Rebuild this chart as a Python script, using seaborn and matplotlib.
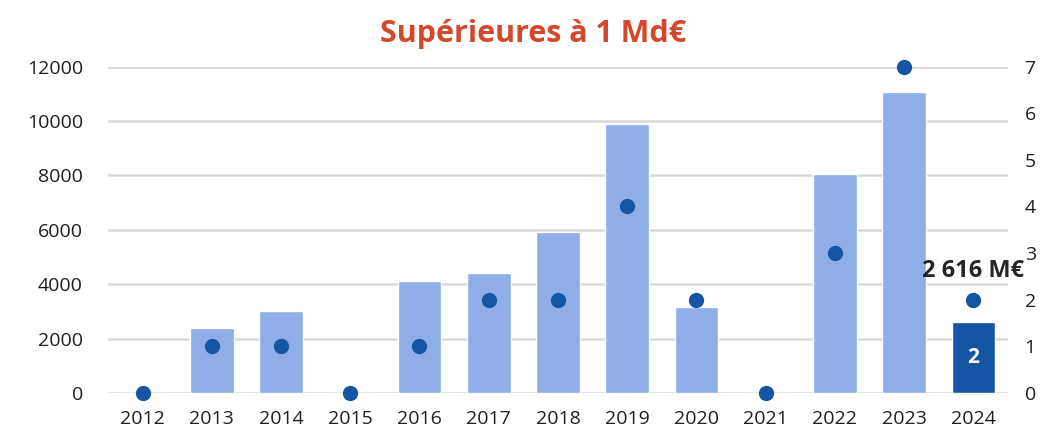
"""Opérations supérieures à 1 Md€ : montants (barres) et nombre (points)."""

import matplotlib

matplotlib.use("Agg")
import matplotlib.pyplot as plt
import pandas as pd
import seaborn as sns

years = ["2012", "2013", "2014", "2015", "2016", "2017", "2018",
         "2019", "2020", "2021", "2022", "2023", "2024"]
amounts = [0, 2400, 3000, 0, 4100, 4400, 5900, 9900, 3150, 0, 8050, 11050, 2616]
counts = [0, 1, 1, 0, 1, 2, 2, 4, 2, 0, 3, 7, 2]

LIGHT = "#8FADE7"
DARK = "#1455A4"
TITLE = "#D5472A"
GRID = "#D9D9D9"
TEXT = "#1F1F1F"

df = pd.DataFrame({"year": years, "amount": amounts, "count": counts})

sns.set_theme(style="white")
plt.rcParams["font.family"] = ["Open Sans", "DejaVu Sans"]

fig = plt.figure(figsize=(10.43, 4.30), dpi=100)
ax = fig.add_axes([0.1035, 0.086, 0.8629, 0.7593])

bar_colors = [LIGHT] * (len(years) - 1) + [DARK]
sns.barplot(data=df, x="year", y="amount", hue="year", palette=bar_colors,
            legend=False, width=0.63, saturation=1, ax=ax, zorder=2)
ax.set_ylim(0, 12000)
ax.set_xlim(-0.5, len(years) - 0.5)
ax.set_yticks(range(0, 12001, 2000))
ax.yaxis.grid(True, color=GRID, linewidth=1.8, zorder=0)
ax.set_axisbelow(True)
ax.set(xlabel="", ylabel="")
ax.tick_params(axis="both", length=0, labelsize=14, colors=TEXT)
ax.tick_params(axis="y", pad=18)
ax.tick_params(axis="x", pad=12)
sns.despine(ax=ax, left=True, bottom=True)

ax2 = ax.twinx()
sns.stripplot(data=df, x="year", y="count", jitter=False, color=DARK,
              size=11, linewidth=0, ax=ax2, zorder=4)
for coll in ax2.collections:
    coll.set_clip_on(False)
ax2.set_ylim(0, 7)
ax2.set_xlim(-0.5, len(years) - 0.5)
ax2.set_yticks(range(0, 8))
ax2.set(xlabel="", ylabel="")
ax2.grid(False)
ax2.tick_params(axis="y", length=0, labelsize=14, colors=TEXT, pad=12)
sns.despine(ax=ax2, left=True, bottom=True, right=True)

last = len(years) - 1
ax.text(last, amounts[last] / 2, str(counts[last]), ha="center", va="center",
        color="white", fontsize=15, fontweight="bold", zorder=5)
ax2.text(last, counts[last] + 0.36, "2 616 M€", ha="center", va="bottom",
         color="#262626", fontsize=17, fontweight="bold", zorder=5)

fig.suptitle("Supérieures à 1 Md€", x=0.511, y=0.955, color=TITLE,
             fontsize=22, fontweight="bold")

fig.savefig("out.png", dpi=100)
